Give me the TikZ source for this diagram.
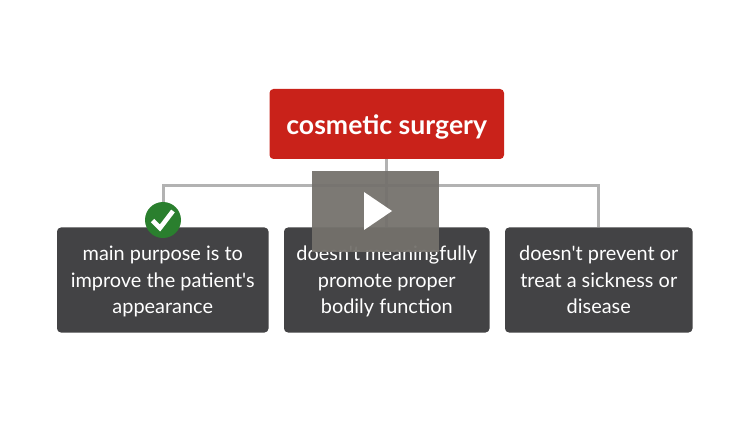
\documentclass[tikz,border=0pt]{standalone}
\usepackage{fontspec}
\newfontfamily\latofont{Lato}
\usetikzlibrary{calc}
\definecolor{redbox}{HTML}{C9221A}
\definecolor{darkbox}{HTML}{434345}
\definecolor{linegray}{HTML}{B2B2B2}
\definecolor{checkgreen}{HTML}{2A7F2E}
\definecolor{playgray}{HTML}{74716C}
\newcommand{\lnh}{\vphantom{Agp}}
\newcommand{\lnt}{\rule{0pt}{18.5pt}}
\tikzset{
  anybox/.style={rounded corners=4pt,inner sep=0pt,outer sep=0pt,align=center,text=white,anchor=north west},
  titlebox/.style={anybox,fill=redbox,font=\latofont\fontsize{26.6}{30}\selectfont\bfseries},
  darkcard/.style={anybox,fill=darkbox,font=\latofont\fontsize{19.9}{26.5}\selectfont},
  conn/.style={draw=linegray,line width=3pt},
}
\begin{document}
\begin{tikzpicture}[x=1pt,y=-1pt]
\useasboundingbox[fill=white] (0,0) rectangle (750,422);
\node[titlebox,minimum width=234.5pt,minimum height=70pt] (title) at (269.5,89) {\rule{0pt}{26pt}cosmetic surgery};
\node[darkcard,minimum width=211.5pt,minimum height=105pt] (left) at (57,227.5) {\lnt main purpose is to\\improve the patient's\\\lnh appearance};
\node[darkcard,minimum width=205.5pt,minimum height=105pt] (mid) at (284,227.5) {\lnt doesn't meaningfully\\promote proper\\\lnh bodily function};
\node[darkcard,minimum width=187.5pt,minimum height=105pt] (right) at (505,227.5) {\lnt doesn't prevent or\\treat a sickness or\\\lnh disease};
\coordinate (busl) at (163.3,185.5);
\coordinate (busr) at (598.4,185.5);
\coordinate (leftin) at (163.3,227.5);
\coordinate (rightin) at (598.4,227.5);
\draw[conn] (title.south) -- (mid.north);
\draw[conn,line join=miter] (leftin) -- (busl) -- (busr) -- (rightin);
\node[circle,fill=checkgreen,minimum size=36pt,inner sep=0pt] (check) at (163,220) {};
\draw[white,line width=4.6pt,line join=miter] ($(check.center)+(-10.5,0.5)$) -- ($(check.center)+(-3,8)$) -- ($(check.center)+(10,-9)$);
\node[fill=playgray,fill opacity=0.94,minimum width=127pt,minimum height=81pt,inner sep=0pt,anchor=north west] (play) at (312,171) {};
\fill[white] (364,192) -- (392,211) -- (364,230) -- cycle;
\end{tikzpicture}
\end{document}
